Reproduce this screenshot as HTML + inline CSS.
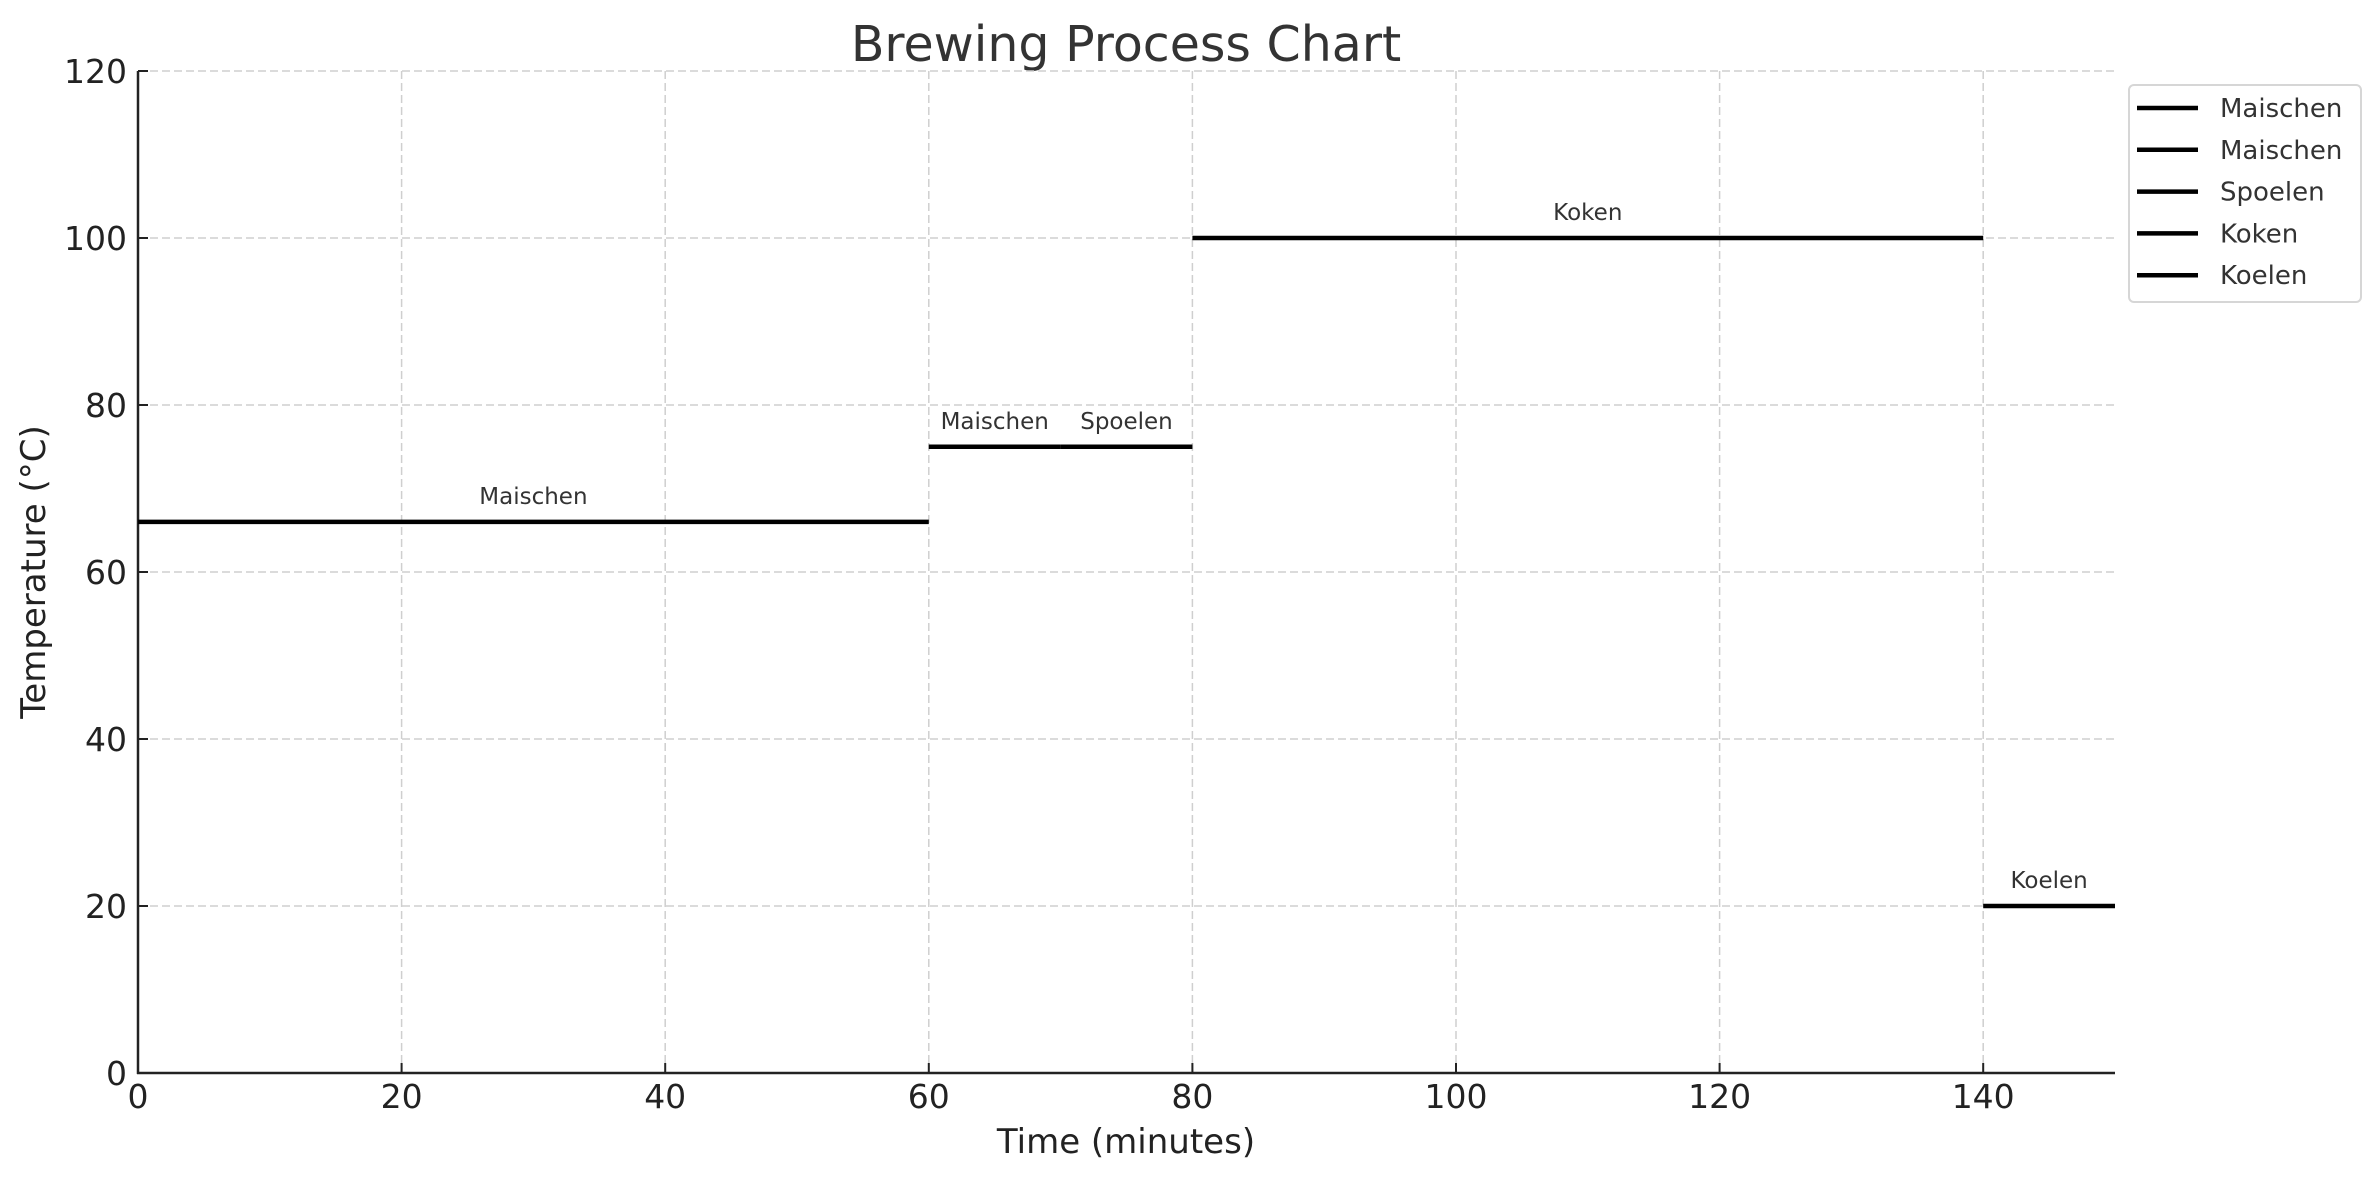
<!DOCTYPE html>
<html><head><meta charset="utf-8"><style>
html,body{margin:0;padding:0;background:#fff;}
svg{display:block;font-family:"DejaVu Sans","Liberation Sans",sans-serif;}
</style></head><body>
<svg id="chart" width="2379" height="1180" viewBox="0 0 2379 1180" xmlns="http://www.w3.org/2000/svg">
<rect width="2379" height="1180" fill="#fff"/>
<text x="1126" y="61" text-anchor="middle" font-size="49" fill="#333">Brewing Process Chart</text>
<g id="grid"></g>
<g id="axes"></g>
<g id="series"></g>
<text x="1126" y="1153" text-anchor="middle" font-size="34" fill="#222">Time (minutes)</text>
<text transform="translate(45,572) rotate(-90)" text-anchor="middle" font-size="34" fill="#222">Temperature (°C)</text>
<g id="legend"></g>
</svg>
<script>
const stepNames = ["Maischen","Maischen","Spoelen","Koken","Koelen"];
const stepStart = [0,60,70,80,140];
const stepEnd = [60,70,80,140,150];
const stepTemp = [66,75,75,100,20];
const xTicks = [0,20,40,60,80,100,120,140];
const yTicks = [0,20,40,60,80,100,120];

const NS="http://www.w3.org/2000/svg";
const L=138,R=2115,T=71,B=1073;
const xMin=0,xMax=150,yMin=0,yMax=120;
const xs=v=>L+(v-xMin)/(xMax-xMin)*(R-L);
const ys=v=>B-(v-yMin)/(yMax-yMin)*(B-T);
function mk(tag,attrs,parent){const e=document.createElementNS(NS,tag);for(const k in attrs)e.setAttribute(k,attrs[k]);parent.appendChild(e);return e;}
const grid=document.getElementById('grid'),axes=document.getElementById('axes'),series=document.getElementById('series'),legend=document.getElementById('legend');

xTicks.forEach(v=>{
  const g=mk('line',{x1:xs(v),x2:xs(v),y1:T,y2:B,stroke:'#cfcfcf','stroke-width':1.5,'stroke-dasharray':'8,4'},grid);
  
  
  const t=mk('line',{x1:xs(v),x2:xs(v),y1:B,y2:B-10,stroke:'#222','stroke-width':2},axes);
  
  
  const lb=mk('text',{x:xs(v),y:1108,'text-anchor':'middle','font-size':33,fill:'#222'},axes);
  lb.textContent=v;
  
  
});
yTicks.forEach(v=>{
  const g=mk('line',{x1:L,x2:R,y1:ys(v),y2:ys(v),stroke:'#cfcfcf','stroke-width':1.5,'stroke-dasharray':'8,4'},grid);
  
  
  const t=mk('line',{x1:L,x2:L+10,y1:ys(v),y2:ys(v),stroke:'#222','stroke-width':2},axes);
  
  
  const lb=mk('text',{x:127,y:ys(v)+12,'text-anchor':'end','font-size':33,fill:'#222'},axes);
  lb.textContent=v;
  
  
});
const ax1=mk('line',{x1:L,x2:L,y1:T,y2:B+1,stroke:'#222','stroke-width':2.5},axes);


const ax2=mk('line',{x1:L-1,x2:R,y1:B,y2:B,stroke:'#222','stroke-width':2.5},axes);



stepNames.forEach((n,i)=>{
  const ln=mk('line',{x1:xs(stepStart[i]),x2:xs(stepEnd[i]),y1:ys(stepTemp[i]),y2:ys(stepTemp[i]),stroke:'#000','stroke-width':4.5},series);
  
  
  const tx=mk('text',{x:xs((stepStart[i]+stepEnd[i])/2),y:ys(stepTemp[i])-18,'text-anchor':'middle','font-size':23,fill:'#333'},series);
  tx.textContent=n;
  
  
});

const box=mk('rect',{x:2129,y:85,width:232,height:217,rx:5,fill:'#fff',stroke:'#d6d6d6','stroke-width':2},legend);


stepNames.forEach((n,i)=>{
  const y=108+i*41.8;
  const l=mk('line',{x1:2137,x2:2198,y1:y,y2:y,stroke:'#000','stroke-width':4.5},legend);
  
  
  const t=mk('text',{x:2220,y:y+9,'font-size':26,fill:'#333'},legend);
  t.textContent=n;
  
  
});
</script>
</body></html>
